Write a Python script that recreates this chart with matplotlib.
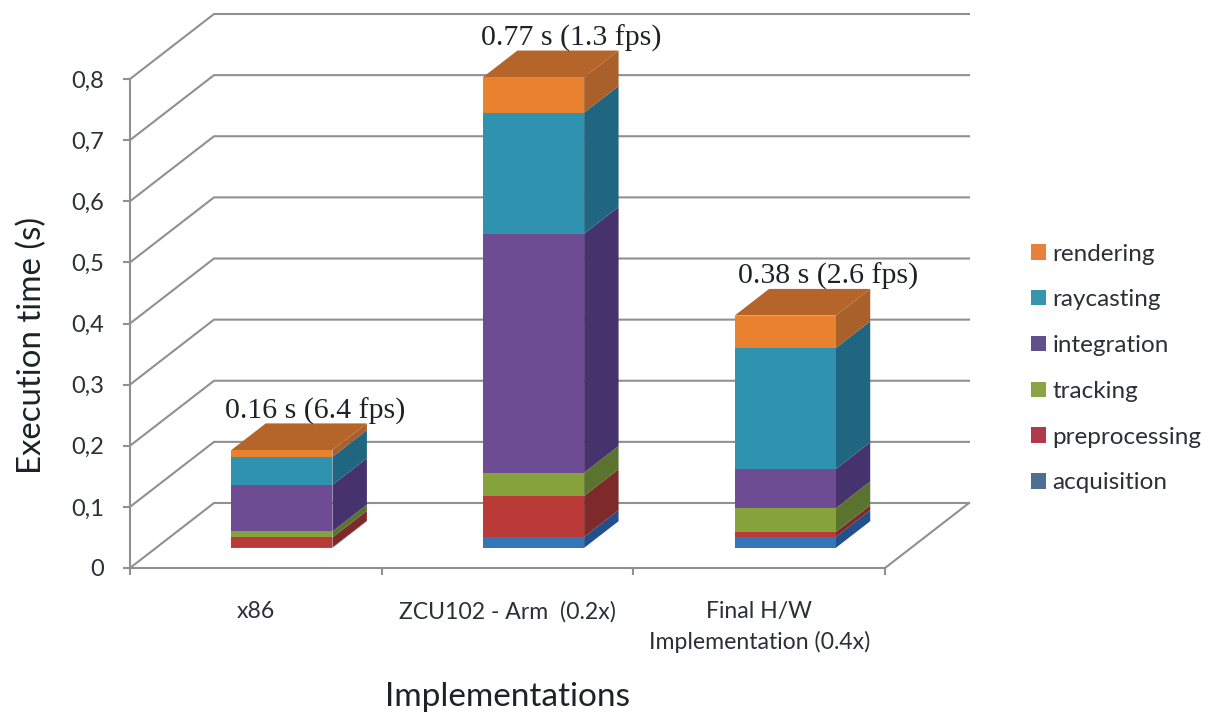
import matplotlib
matplotlib.use("Agg")
import matplotlib.pyplot as plt
from matplotlib.patches import Polygon, Patch
from matplotlib.ticker import FixedLocator, FuncFormatter

# Execution time per pipeline stage, seconds
implementations = ["x86", "ZCU102 - Arm  (0.2x)", "Final H/W\nImplementation (0.4x)"]
stages = ["acquisition", "preprocessing", "tracking", "integration", "raycasting", "rendering"]
acquisition = [0.001, 0.018, 0.018]
preprocessing = [0.016, 0.067, 0.008]
tracking = [0.010, 0.038, 0.039]
integration = [0.076, 0.391, 0.064]
raycasting = [0.046, 0.198, 0.198]
rendering = [0.011, 0.058, 0.053]
series = [acquisition, preprocessing, tracking, integration, raycasting, rendering]
total_labels = ["0.16 s (6.4 fps)", "0.77 s (1.3 fps)", "0.38 s (2.6 fps)"]
y_ticks = [0, 0.1, 0.2, 0.3, 0.4, 0.5, 0.6, 0.7, 0.8]

# Face colours of each stage: front, side, top
front = ["#3477B8", "#B93A36", "#86A23A", "#6E4C94", "#2F93B0", "#E8822F"]
side = ["#23508A", "#7E2A2A", "#5A7430", "#46336E", "#216680", "#A9602A"]
top = "#B5652A"
legend_colors = ["#4E6E92", "#B03A4C", "#8CA443", "#5F5189", "#3596AD", "#E8823A"]

W, H = 1216, 715
LEFT, RIGHT, BOTTOM, TOP = 130, 885, 568, 79
GRID = "#909090"
TEXT = "#2B2F36"

fig = plt.figure(figsize=(W / 100, H / 100), dpi=100, facecolor="white")
ax = fig.add_axes([LEFT / W, 1 - BOTTOM / H, (RIGHT - LEFT) / W, (BOTTOM - TOP) / H])
ax.set_xlim(0, 3)
ax.set_ylim(0, 0.8)
ax.patch.set_visible(False)

# Depth of the chart box expressed in data units
DX = 84 / ((RIGHT - LEFT) / 3)
DY = 65 / ((BOTTOM - TOP) / 0.8)
BAR_NEAR, BAR_FAR = 0.31, 0.72
BAR_WIDTH = 0.402


def project(x, y, depth):
    """Shift a point on the front plane towards the back of the box."""
    return x + depth * DX, y + depth * DY


# Back wall grid with its slanted side-wall segments, plus the floor edge
for v in y_ticks:
    ax.plot([0, DX, 3 + DX], [v, v + DY, v + DY], color=GRID, lw=1.5, clip_on=False, zorder=1)
ax.plot([3, 3 + DX], [0, DY], color=GRID, lw=1.5, clip_on=False, zorder=1)

# Stacked boxes: top face and side faces first, then the front faces
for i in range(len(implementations)):
    x0 = i + 0.5 - BAR_WIDTH / 2
    x1 = x0 + BAR_WIDTH
    base = 0.0
    for s, values in enumerate(series):
        h = values[i]
        y0, y1 = base, base + h
        ax.add_patch(Polygon(
            [project(x1, y0, BAR_NEAR), project(x1, y1, BAR_NEAR),
             project(x1, y1, BAR_FAR), project(x1, y0, BAR_FAR)],
            closed=True, fc=side[s], ec="none", clip_on=False, zorder=3))
        ax.add_patch(Polygon(
            [project(x0, y0, BAR_NEAR), project(x1, y0, BAR_NEAR),
             project(x1, y1, BAR_NEAR), project(x0, y1, BAR_NEAR)],
            closed=True, fc=front[s], ec="none", clip_on=False, zorder=4))
        base = y1
    ax.add_patch(Polygon(
        [project(x0, base, BAR_NEAR), project(x1, base, BAR_NEAR),
         project(x1, base, BAR_FAR), project(x0, base, BAR_FAR)],
        closed=True, fc=top, ec="none", clip_on=False, zorder=3))
    cx, cy = project(i + 0.5, base, BAR_NEAR)
    ax.annotate(total_labels[i], xy=(cx, cy), xytext=(33 + 5 * i, 39), textcoords="offset pixels",
                ha="center", va="center", family="Liberation Serif", fontsize=21.5,
                color="#1E2228", zorder=6, annotation_clip=False)

# Axis styling
for name in ("top", "right"):
    ax.spines[name].set_visible(False)
for name in ("left", "bottom"):
    ax.spines[name].set_color(GRID)
    ax.spines[name].set_linewidth(1.5)
ax.yaxis.set_major_locator(FixedLocator(y_ticks))
ax.yaxis.set_major_formatter(FuncFormatter(lambda v, _: f"{v:.1f}".replace(".", ",") if v else "0"))
ax.set_xticks([0, 1, 2, 3])
ax.set_xticklabels([])
ax.tick_params(axis="both", length=5, width=1.5, color=GRID)
ax.tick_params(axis="y", labelsize=17, labelcolor=TEXT, pad=13.5)
for lab in ax.get_yticklabels():
    lab.set_family("Lato")

# Category labels sit below the axis, centred on each slot
for i, name in enumerate(implementations):
    ax.annotate(name, xy=(i + 0.5, 0), xytext=(0, -33), textcoords="offset pixels",
                ha="center", va="top", family="Lato", fontsize=16.6, color=TEXT,
                linespacing=1.5, annotation_clip=False)

fig.text(32 / W, 1 - 345 / H, "Execution time (s)", rotation=90, ha="center", va="center",
         family="Lato", fontsize=23.8, color="#1E2228")
fig.text(507 / W, 1 - 697 / H, "Implementations", ha="center", va="center",
         family="Lato", fontsize=24, color="#1E2228")

handles = [Patch(fc=c, ec="none") for c in legend_colors[::-1]]
leg = fig.legend(handles, stages[::-1], loc="center left", bbox_to_anchor=(1031 / W, 1 - 368.5 / H),
                 frameon=False, prop={"family": "Lato", "size": 17.5}, labelcolor=TEXT,
                 handlelength=0.6, handleheight=0.6, handletextpad=0.28, labelspacing=1.02,
                 borderpad=0, borderaxespad=0)

fig.savefig("out.png", dpi=100, facecolor="white")
